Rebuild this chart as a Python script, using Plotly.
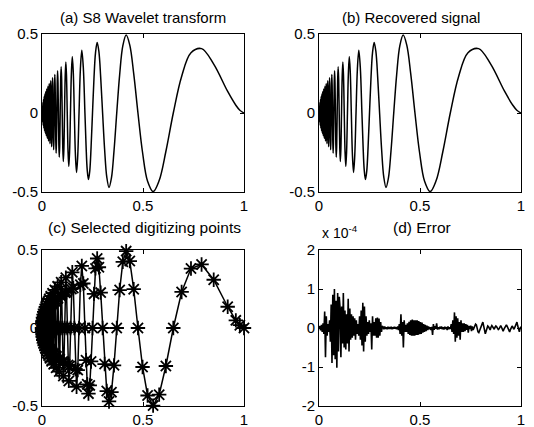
import numpy as np
import plotly.graph_objects as go

# ---- data (Doppler-like test signal at the digitizing points) ----
sig_t = [0.0, 0.0003, 0.0006, 0.0009, 0.0012, 0.0015, 0.0019, 0.0022,
         0.0025, 0.0028, 0.0032, 0.0035, 0.0039, 0.0042, 0.0046, 0.0049,
         0.0053, 0.0056, 0.0060, 0.0064, 0.0068, 0.0071, 0.0075, 0.0079,
         0.0083, 0.0087, 0.0092, 0.0096, 0.0100, 0.0104, 0.0109, 0.0113,
         0.0118, 0.0122, 0.0127, 0.0132, 0.0136, 0.0141, 0.0146, 0.0151,
         0.0156, 0.0161, 0.0167, 0.0172, 0.0177, 0.0183, 0.0189, 0.0194,
         0.0200, 0.0206, 0.0212, 0.0218, 0.0224, 0.0230, 0.0237, 0.0243,
         0.0250, 0.0257, 0.0264, 0.0271, 0.0278, 0.0285, 0.0293, 0.0300,
         0.0308, 0.0316, 0.0324, 0.0332, 0.0340, 0.0349, 0.0357, 0.0366,
         0.0375, 0.0384, 0.0394, 0.0403, 0.0413, 0.0423, 0.0433, 0.0444,
         0.0455, 0.0466, 0.0477, 0.0488, 0.0500, 0.0512, 0.0524, 0.0537,
         0.0550, 0.0563, 0.0577, 0.0591, 0.0605, 0.0620, 0.0635, 0.0651,
         0.0667, 0.0683, 0.0700, 0.0717, 0.0735, 0.0754, 0.0773, 0.0792,
         0.0813, 0.0833, 0.0855, 0.0877, 0.0900, 0.0924, 0.0948, 0.0974,
         0.1000, 0.1027, 0.1056, 0.1085, 0.1115, 0.1147, 0.1180, 0.1214,
         0.1250, 0.1287, 0.1326, 0.1367, 0.1409, 0.1454, 0.1500, 0.1549,
         0.1600, 0.1654, 0.1711, 0.1770, 0.1833, 0.1900, 0.1971, 0.2046,
         0.2125, 0.2181, 0.2239, 0.2300, 0.2364, 0.2430, 0.2500, 0.2573,
         0.2650, 0.2731, 0.2816, 0.2905, 0.3000, 0.3100, 0.3206, 0.3318,
         0.3438, 0.3565, 0.3700, 0.3845, 0.4000, 0.4167, 0.4346, 0.4540,
         0.4750, 0.4978, 0.5227, 0.5500, 0.5800, 0.6132, 0.6500, 0.6912,
         0.7375, 0.7900, 0.8500, 0.9192, 0.9596, 0.9794, 1.0]
sig_y = [0.0, -0.0122, -0.024, -0.0213, 0.0, 0.0277, 0.043, 0.0329,
         0.0, -0.0376, -0.056, -0.0417, 0.0, 0.0457, 0.067, 0.0494,
         0.0, -0.0529, -0.077, -0.0563, 0.0, 0.0595, 0.086, 0.0627,
         0.0, -0.0658, -0.095, -0.0688, 0.0, 0.0718, 0.104, 0.0748,
         0.0, -0.0777, -0.112, -0.0806, 0.0, 0.0834, 0.120, 0.0863,
         0.0, -0.0891, -0.128, -0.0919, 0.0, 0.0948, 0.136, 0.0976,
         0.0, -0.1004, -0.144, -0.1032, 0.0, 0.1061, 0.152, 0.1090,
         0.0, -0.1118, -0.160, -0.1147, 0.0, 0.1177, 0.169, 0.1206,
         0.0, -0.1236, -0.177, -0.1266, 0.0, 0.1297, 0.186, 0.1328,
         0.0, -0.1359, -0.194, -0.1391, 0.0, 0.1423, 0.204, 0.1456,
         0.0, -0.1490, -0.213, -0.1524, 0.0, 0.1559, 0.223, 0.1594,
         0.0, -0.1630, -0.233, -0.1667, 0.0, 0.1705, 0.244, 0.1744,
         0.0, -0.1784, -0.255, -0.1825, 0.0, 0.1867, 0.267, 0.1910,
         0.0, -0.1954, -0.2796, -0.2000, 0.0, 0.2047, 0.2930, 0.2096,
         0.0, -0.2147, -0.3073, -0.2199, 0.0, 0.2253, 0.3226, 0.2310,
         0.0, -0.2368, -0.3392, -0.2429, 0.0, 0.2492, 0.3571, 0.2558,
         0.0, -0.2627, -0.3766, -0.2699, 0.0, 0.2774, 0.3978, 0.2852,
         0.0, -0.2065, -0.3610, -0.4208, -0.3679, -0.2145, 0.0, 0.2186,
         0.3822, 0.4455, 0.3895, 0.2270, 0.0, -0.2312, -0.4042, -0.4709,
         -0.4113, -0.2395, 0.0, 0.2432, 0.4243, 0.4930, 0.4293, 0.2489,
         0.0, -0.2500, -0.4326, -0.4975, -0.4274, -0.2435, 0.0, 0.2310,
         0.3810, 0.4073, 0.3092, 0.1362, 0.0490, 0.0178, 0.0]

# error signal, in units of 1e-4
err_e4 = [0, 0.05, -0.06, 0.08, -0.1, 0.12, -0.15,
          0.42, -0.75, 0.3, -0.2, 0.1, -0.1, 0.2, -0.35,
          0.6, -0.9, 0.85, -0.7, 1.0, -0.8, 0.7, -1.02, 0.9, -0.6, 0.8,
          0.5, -0.75, 0.55, -0.4, 0.9, -0.5, 0.45,
          -0.55, 0.35, -0.4, 0.75, -0.6, 0.5, -0.3, 0.35,
          -0.25, 0.3, -0.2, 0.25, -0.3, 0.2, -0.15, 0.1,
          -0.2, 0.3, -0.3, 0.45, -0.45, 0.65, -0.6, 0.55, -0.35, 0.3, -0.2, 0.15,
          -0.15, 0.2, -0.1, 0.12, -0.55, 0.3, -0.2,
          0.15, -0.2, 0.25, -0.25, 0.27, -0.25, 0.24, -0.2, 0.15, -0.1, 0.05,
          0.03, -0.03, 0.04, -0.02, 0.02, -0.03, 0.03, -0.02, 0.02, -0.02,
          0.03, -0.03, 0.02, -0.02, 0.03, -0.02, 0.02, -0.03, 0.04, -0.05,
          0.1, -0.15, 0.35, -0.2, 0.15, -0.5, 0.2, -0.1,
          0.08, -0.1, 0.12, -0.15, 0.16, -0.18, 0.2, -0.2, 0.22, -0.2, 0.2, -0.2, 0.2, -0.18,
          0.2, -0.18, 0.18, -0.16, 0.15, -0.15, 0.14, -0.12, 0.1, -0.1, 0.08, -0.08, 0.06,
          -0.05, 0.04,
          -0.03, 0.02, -0.05, 0.03, -0.18, 0.1, -0.05, 0.05, -0.02, 0.12, -0.04, 0.02, -0.03,
          0.03, -0.02, 0.04, -0.03, 0.02, -0.04, 0.03, -0.02, 0.02, -0.05, 0.04, -0.03, 0.02,
          -0.02,
          0.1, -0.1, 0.2, -0.15, 0.4, -0.35, 0.3, -0.25, 0.25, -0.2, 0.15, -0.3, 0.2, -0.1, 0.12,
          -0.1, 0.12, -0.08, 0.1, -0.05, 0.08, -0.12, 0.05, -0.03, 0.06, -0.08, 0.04, -0.05,
          0.02, 0.05, 0.1, 0.08, -0.02, -0.1, -0.12, -0.05, 0.02, 0.06, 0.1, 0.15, 0.08, -0.05,
          -0.15, -0.08, 0.0, 0.05, 0.03, -0.02, -0.05, 0.02, 0.06, 0.03,
          0.0, -0.03, 0.02, 0.05, 0.03, 0.0, -0.04, -0.02, 0.03, 0.06, 0.02, -0.05, -0.08,
          -0.03, 0.02, 0.05, 0.08, 0.04, -0.02, -0.06, -0.1, -0.04, 0.02, 0.05, 0.02, -0.03,
          0.0, 0.05, 0.1, 0.15, 0.05, -0.05, -0.1, 0.0, 0.03]

x_tickvals = [0, 0.5, 1]
x_ticktext = ["0", "0.5", "1"]
y_tickvals = [-0.5, 0, 0.5]
y_ticktext = ["-0.5", "0", "0.5"]
e_tickvals = [-2, -1, 0, 1, 2]
e_ticktext = ["-2", "-1", "0", "1", "2"]
titles = ["(a) S8 Wavelet transform", "(b) Recovered signal",
          "(c) Selected digitizing points", "(d) Error"]

# page body has an 8px margin; the figure starts at (8, 8) in the window
OFF = 8
W, H = 534 - OFF, 427 - OFF
FONT = "Liberation Sans, Arial, sans-serif"

def px_x(v):
    return (v - OFF) / W

def px_y(v):
    return 1 - (v - OFF) / H

left_dom = [px_x(42), px_x(244)]
right_dom = [px_x(319), px_x(521)]
top_dom = [px_y(192), px_y(34)]
bot_dom = [px_y(406), px_y(250)]

fig = go.Figure()
LW = 1.5
line_style = dict(color="black", width=LW)

fig.add_trace(go.Scatter(x=sig_t, y=sig_y, mode="lines",
                         line=dict(color="black", width=LW, shape="spline"),
                         xaxis="x", yaxis="y", showlegend=False))
fig.add_trace(go.Scatter(x=sig_t, y=sig_y, mode="lines",
                         line=dict(color="black", width=LW, shape="spline"),
                         xaxis="x2", yaxis="y2", showlegend=False))
fig.add_trace(go.Scatter(x=sig_t, y=sig_y, mode="lines+markers", line=line_style,
                         marker=dict(symbol="asterisk-open", size=12, color="black",
                                     line=dict(color="black", width=1.8)),
                         cliponaxis=False, xaxis="x3", yaxis="y3", showlegend=False))
err_x = np.linspace(0, 1, len(err_e4))
fig.add_trace(go.Scatter(x=err_x, y=err_e4, mode="lines", line=dict(color="black", width=1.6),
                         xaxis="x4", yaxis="y4", showlegend=False))

common = dict(showline=True, linecolor="black", linewidth=1, mirror="ticks",
              ticks="inside", ticklen=4, tickcolor="black", showgrid=False, zeroline=False,
              automargin=False,
              tickfont=dict(family=FONT, size=15, color="black"))

def xax(dom, anchor):
    return dict(domain=dom, anchor=anchor, range=[0, 1], tickvals=x_tickvals,
                ticktext=x_ticktext, **common)

def yax(dom, anchor, rng, tv, tt):
    return dict(domain=dom, anchor=anchor, range=rng, tickvals=tv, ticktext=tt, **common)

fig.update_layout(
    width=W, height=H, margin=dict(l=0, r=0, t=0, b=0, autoexpand=False),
    paper_bgcolor="white", plot_bgcolor="white",
    font=dict(family=FONT, size=15, color="black"),
    xaxis=xax(left_dom, "y"), yaxis=yax(top_dom, "x", [-0.5, 0.5], y_tickvals, y_ticktext),
    xaxis2=xax(right_dom, "y2"), yaxis2=yax(top_dom, "x2", [-0.5, 0.5], y_tickvals, y_ticktext),
    xaxis3=xax(left_dom, "y3"), yaxis3=yax(bot_dom, "x3", [-0.5, 0.5], y_tickvals, y_ticktext),
    xaxis4=xax(right_dom, "y4"), yaxis4=yax(bot_dom, "x4", [-2, 2], e_tickvals, e_ticktext),
)

# top titles are hung from the top edge of the figure so they are not clipped
fig.add_annotation(text=titles[0], x=px_x(143), y=1.0, xref="paper", yref="paper",
                   showarrow=False, xanchor="center", yanchor="top", borderpad=0,
                   font=dict(family=FONT, size=15, color="black"))
fig.add_annotation(text=titles[1], x=px_x(411), y=1.0, xref="paper", yref="paper",
                   showarrow=False, xanchor="center", yanchor="top", borderpad=0,
                   font=dict(family=FONT, size=15, color="black"))
fig.add_annotation(text=titles[2], x=px_x(144), y=px_y(227), xref="paper", yref="paper",
                   showarrow=False, xanchor="center", yanchor="middle",
                   font=dict(family=FONT, size=15.5, color="black"))
fig.add_annotation(text=titles[3], x=px_x(422), y=px_y(227), xref="paper", yref="paper",
                   showarrow=False, xanchor="center", yanchor="middle",
                   font=dict(family=FONT, size=15.5, color="black"))
fig.add_annotation(text="x 10<sup>-4</sup>", x=px_x(320), y=px_y(232), xref="paper", yref="paper",
                   showarrow=False, xanchor="left", yanchor="middle",
                   font=dict(family=FONT, size=14, color="black"))

fig.write_html("out.html")
